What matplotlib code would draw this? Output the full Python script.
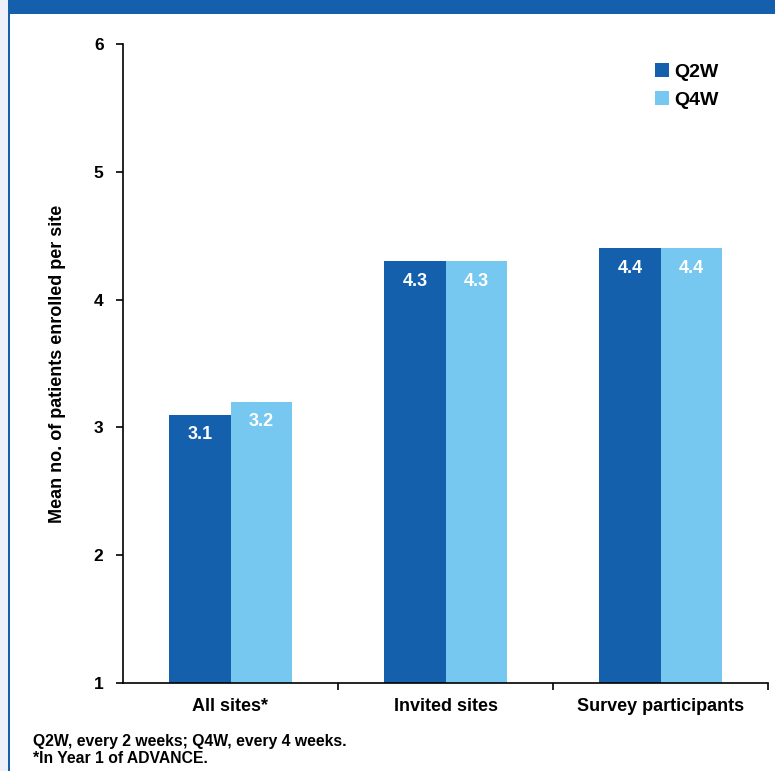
import matplotlib.pyplot as plt
from matplotlib.patches import Rectangle
import numpy as np

categories = ["All sites*", "Invited sites", "Survey participants"]
q2w = [3.1, 4.3, 4.4]
q4w = [3.2, 4.3, 4.4]
series_names = ["Q2W", "Q4W"]
y_ticks = [1, 2, 3, 4, 5, 6]
footnote = "Q2W, every 2 weeks; Q4W, every 4 weeks.\n*In Year 1 of ADVANCE."

dark_blue = "#1560ac"
light_blue = "#76c8f0"

plt.rcParams['font.family'] = ['Liberation Sans', 'DejaVu Sans']
plt.rcParams['font.weight'] = 'bold'

fig = plt.figure(figsize=(7.75, 7.71), dpi=100)
W, H = 775, 771

# page frame: light strip on the left, blue rule and blue title banner
fig.patches.append(Rectangle((0, 0), 8 / W, 1, transform=fig.transFigure,
                             facecolor="#eef1f9", edgecolor="none"))
fig.patches.append(Rectangle((8 / W, 0), 2 / W, 1, transform=fig.transFigure,
                             facecolor=dark_blue, edgecolor="none"))
fig.patches.append(Rectangle((8 / W, 1 - 14 / H), 1, 14 / H, transform=fig.transFigure,
                             facecolor=dark_blue, edgecolor="none"))

ax = fig.add_axes([123 / W, 1 - 683 / H, 645 / W, 639 / H])

x = np.arange(len(categories))
width = 0.284
b1 = ax.bar(x - width / 2, q2w, width, bottom=0, color=dark_blue, label=series_names[0])
b2 = ax.bar(x + width / 2, q4w, width, bottom=0, color=light_blue, label=series_names[1])

# value labels inside the top of each bar
for bars, vals in [(b1, q2w), (b2, q4w)]:
    for b, v in zip(bars, vals):
        ax.text(b.get_x() + b.get_width() / 2, v - 0.09, f"{v:.1f}",
                ha="center", va="top", color="white", fontsize=13, fontweight="bold")

ax.set_ylim(1, 6)
ax.set_xlim(-0.5, 2.5)
ax.set_yticks(y_ticks)
ax.set_yticklabels([str(t) for t in y_ticks], fontsize=12.5)
ax.set_xticks(x)
ax.set_xticklabels(categories, fontsize=13)
ax.tick_params(axis="x", length=0, pad=11)
ax.set_xticks([0.5, 1.5, 2.5], minor=True)
ax.tick_params(axis="x", which="minor", length=5, width=1.2, direction="out")
ax.tick_params(axis="y", length=5, width=1.2, direction="out", pad=9)

for s in ["top", "right"]:
    ax.spines[s].set_visible(False)
ax.spines["left"].set_linewidth(1.2)
ax.spines["bottom"].set_linewidth(1.2)

ax.set_ylabel("Mean no. of patients enrolled per site", fontsize=13, fontweight="bold")
ax.yaxis.set_label_coords(-(123 - 66) / 645, 0.5)

ax.legend(loc="upper left", bbox_to_anchor=(0.825, 0.970), frameon=False, fontsize=14,
          borderaxespad=0, borderpad=0,
          handlelength=0.7, handleheight=0.7, handletextpad=0.3, labelspacing=0.55)

fig.text(33 / W, 1 - 750 / H, footnote, fontsize=11.3, fontweight="bold",
         va="center", ha="left", linespacing=1.2)

fig.savefig("out.png", dpi=100)
